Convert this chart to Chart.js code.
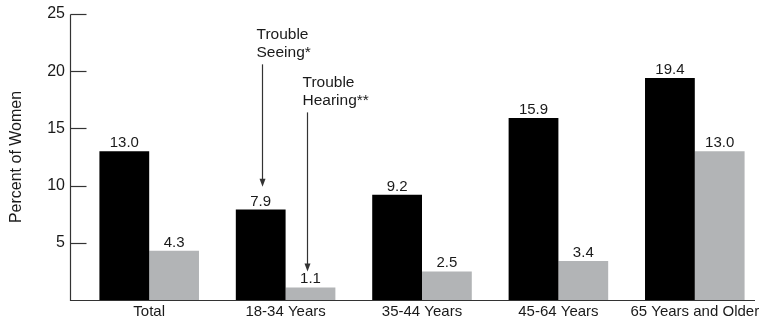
<!DOCTYPE html>
<html>
<head>
<meta charset="utf-8">
<script src="https://cdn.jsdelivr.net/npm/chart.js@4.4.1/dist/chart.umd.min.js"></script>
<style>
  html, body { margin: 0; padding: 0; background: #fff; }
  #wrap { width: 767px; height: 320px; position: relative; }
</style>
</head>
<body>
<div id="wrap"><canvas id="c" width="767" height="320"></canvas></div>
<script>
const categories = ["Total", "18-34 Years", "35-44 Years", "45-64 Years", "65 Years and Older"];
const troubleSeeing = [13.0, 7.9, 9.2, 15.9, 19.4];
const troubleHearing = [4.3, 1.1, 2.5, 3.4, 13.0];
const yTicks = [5, 10, 15, 20, 25];
const seriesLabels = ["Trouble Seeing*", "Trouble Hearing**"];

const TEXT = '#1a1a1a';
const AXIS = '#333';
const FONT = '"Liberation Sans", Arial, sans-serif';

// annotation callouts: which dataset/category they point to, and value range of arrow
const callouts = [
  { dataset: 0, index: 1, lines: ["Trouble", "Seeing*"], from: 20.6, to: 9.9, dx: 1, textDx: -6, textTop: 27 },
  { dataset: 1, index: 1, lines: ["Trouble", "Hearing**"], from: 16.4, to: 2.5, dx: -3, textDx: -5, textTop: 75 }
];

const overlay = {
  id: 'overlay',
  afterDatasetsDraw(chart) {
    const ctx = chart.ctx;
    const y = chart.scales.y;
    const area = chart.chartArea;
    const axisX = Math.round(area.left - 11) + 0.5;
    const zeroY = Math.round(y.getPixelForValue(0)) + 0.5;
    ctx.save();
    // axes
    ctx.strokeStyle = AXIS;
    ctx.lineWidth = 1.2;
    ctx.beginPath();
    ctx.moveTo(axisX, Math.round(y.getPixelForValue(25)) + 0.5);
    ctx.lineTo(axisX, zeroY);
    ctx.lineTo(755, zeroY);
    ctx.stroke();
    yTicks.forEach(v => {
      const py = Math.round(y.getPixelForValue(v)) + 0.5;
      ctx.beginPath();
      ctx.moveTo(axisX, py);
      ctx.lineTo(axisX + 16, py);
      ctx.stroke();
    });
    // value labels
    ctx.fillStyle = TEXT;
    ctx.font = '15px ' + FONT;
    ctx.textAlign = 'center';
    ctx.textBaseline = 'alphabetic';
    chart.data.datasets.forEach((ds, di) => {
      const meta = chart.getDatasetMeta(di);
      meta.data.forEach((bar, i) => {
        ctx.fillText(ds.data[i].toFixed(1), bar.x, bar.y - 4);
      });
    });
    // callouts
    ctx.font = '15.5px ' + FONT;
    ctx.textAlign = 'left';
    ctx.textBaseline = 'top';
    callouts.forEach(c => {
      const bar = chart.getDatasetMeta(c.dataset).data[c.index];
      const x = Math.round(bar.x + c.dx) + 0.5;
      c.lines.forEach((t, k) => ctx.fillText(t, x + c.textDx, c.textTop + k * 18));
      const y1 = y.getPixelForValue(c.from);
      const y2 = y.getPixelForValue(c.to);
      ctx.strokeStyle = AXIS;
      ctx.lineWidth = 1.2;
      ctx.beginPath();
      ctx.moveTo(x, y1);
      ctx.lineTo(x, y2 - 6);
      ctx.stroke();
      ctx.fillStyle = AXIS;
      ctx.beginPath();
      ctx.moveTo(x - 3, y2 - 8);
      ctx.lineTo(x + 3, y2 - 8);
      ctx.lineTo(x, y2);
      ctx.closePath();
      ctx.fill();
      ctx.fillStyle = TEXT;
    });
    ctx.restore();
  }
};

function noPad(scale) {
  scale.paddingTop = 0; scale.paddingBottom = 0;
  scale.paddingLeft = 0; scale.paddingRight = 0;
}

new Chart(document.getElementById('c'), {
  type: 'bar',
  data: {
    labels: categories,
    datasets: [
      { label: seriesLabels[0], data: troubleSeeing, backgroundColor: '#000000', borderWidth: 0 },
      { label: seriesLabels[1], data: troubleHearing, backgroundColor: '#b2b4b6', borderWidth: 0 }
    ]
  },
  options: {
    responsive: false,
    animation: false,
    devicePixelRatio: 1,
    layout: { padding: { left: 0, right: 4, top: 14, bottom: 0 } },
    datasets: { bar: { barPercentage: 1.0, categoryPercentage: 0.73 } },
    plugins: { legend: { display: false }, tooltip: { enabled: false } },
    scales: {
      x: {
        afterFit(scale) { scale.height = 20; noPad(scale); },
        grid: { display: false, drawTicks: false },
        border: { display: false },
        ticks: { color: TEXT, font: { family: FONT, size: 15 }, padding: 3, maxRotation: 0, autoSkip: false }
      },
      y: {
        min: 0, max: 25,
        afterFit(scale) { scale.width = 81; noPad(scale); },
        grid: { display: false, drawTicks: false },
        border: { display: false },
        ticks: {
          stepSize: 5, color: TEXT, padding: 16,
          font: { family: FONT, size: 16 },
          callback: v => (yTicks.includes(v) ? String(v) : '')
        },
        title: {
          display: true, text: 'Percent of Women', color: TEXT,
          font: { family: FONT, size: 16 }, padding: { top: 7, bottom: 0 }
        }
      }
    }
  },
  plugins: [overlay]
});
</script>
</body>
</html>
